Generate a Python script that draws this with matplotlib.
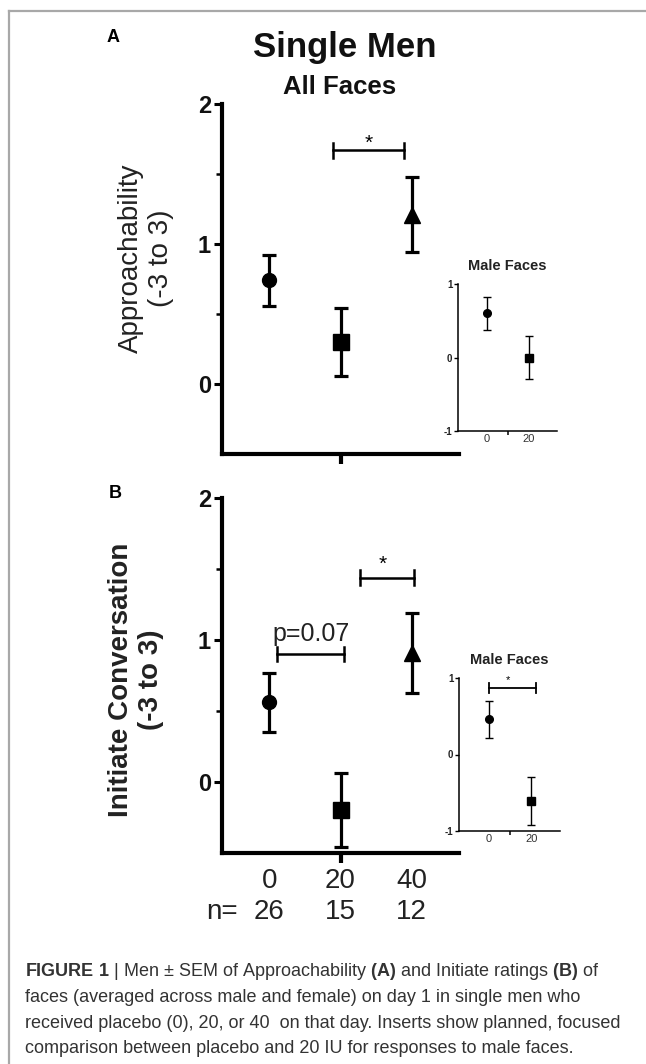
import matplotlib
matplotlib.use("Agg")
import matplotlib.pyplot as plt
from matplotlib.lines import Line2D

plt.rcParams['font.family'] = ['Liberation Sans', 'DejaVu Sans']
plt.rcParams['mathtext.fontset'] = 'custom'
plt.rcParams['mathtext.rm'] = 'Liberation Sans'
plt.rcParams['mathtext.bf'] = 'Liberation Sans:bold'

# data
doses = ['0', '20', '40']
n_counts = ['26', '15', '12']
markers = ['o', 's', '^']
marker_sizes = [10, 11, 11.5]

approach_mean = [0.74, 0.30, 1.21]
approach_sem = [0.18, 0.24, 0.27]
initiate_mean = [0.56, -0.20, 0.91]
initiate_sem = [0.205, 0.26, 0.28]

male_doses = ['0', '20']
male_approach_mean = [0.60, 0.0]
male_approach_sem = [0.22, 0.29]
male_initiate_mean = [0.46, -0.61]
male_initiate_sem = [0.24, 0.31]

caption = [
    r"$\mathbf{FIGURE\ 1}$ | Men ± SEM of Approachability $\mathbf{(A)}$ and Initiate ratings $\mathbf{(B)}$ of",
    "faces (averaged across male and female) on day 1 in single men who",
    "received placebo (0), 20, or 40  on that day. Inserts show planned, focused",
    "comparison between placebo and 20 IU for responses to male faces.",
]

W, H = 646, 1064
fig = plt.figure(figsize=(W / 100, H / 100), dpi=100)


def box(x0, y0, x1, y1):
    # pixel box (top-left origin) -> figure fraction rect
    return [x0 / W, 1 - y1 / H, (x1 - x0) / W, (y1 - y0) / H]


def main_axes(rect):
    ax = fig.add_axes(rect)
    for s in ['top', 'right']:
        ax.spines[s].set_visible(False)
    for s in ['left', 'bottom']:
        ax.spines[s].set_linewidth(3)
        ax.spines[s].set_capstyle('projecting')
    ax.set_xlim(1 / 3, 11 / 3)
    ax.set_ylim(-0.5, 2)
    ax.set_yticks([0, 1, 2])
    ax.set_yticklabels(['0', '1', '2'], fontsize=17, fontweight='bold', color='#111')
    ax.set_yticks([0.5, 1.5], minor=True)
    ax.tick_params(axis='y', which='major', length=6, width=2.2, pad=2)
    ax.tick_params(axis='y', which='minor', length=4, width=1.8)
    ax.xaxis.remove_overlapping_locs = False
    ax.set_xticks([2], minor=True)
    ax.tick_params(axis='x', which='minor', length=7, width=3)
    ax.patch.set_alpha(0)
    return ax


def draw_points(ax, means, sems, ms_scale=1.0, lw=2.3, cap=5):
    for i in range(len(means)):
        ax.errorbar(i + 1, means[i], yerr=sems[i], fmt=markers[i], color='black',
                    ms=marker_sizes[i] * ms_scale, elinewidth=lw, capsize=cap,
                    capthick=lw, zorder=3)


def bracket(ax, x0, x1, y, h, lw=1.8):
    ax.plot([x0, x1], [y, y], color='black', lw=lw)
    ax.plot([x0, x0], [y - h, y + h], color='black', lw=lw)
    ax.plot([x1, x1], [y - h, y + h], color='black', lw=lw)


def inset_axes(rect):
    ax = fig.add_axes(rect)
    for s in ['top', 'right']:
        ax.spines[s].set_visible(False)
    for s in ['left', 'bottom']:
        ax.spines[s].set_linewidth(1.1)
    ax.set_xlim(0.31, 2.67)
    ax.set_ylim(-1, 1)
    ax.set_yticks([-1, 0, 1])
    ax.set_yticklabels(['-1', '0', '1'], fontsize=7, fontweight='bold', color='#222')
    ax.tick_params(axis='y', length=3, width=1, pad=1)
    ax.xaxis.remove_overlapping_locs = False
    ax.set_xticks([1, 2])
    ax.set_xticklabels(male_doses, fontsize=8, color='#333')
    ax.tick_params(axis='x', which='major', length=0, pad=2)
    ax.set_xticks([1.5], minor=True)
    ax.tick_params(axis='x', which='minor', length=3, width=1.1)
    ax.patch.set_alpha(0)
    return ax


# ---- panel A ----
axA = main_axes(box(222, 104, 459, 454))
axA.set_xticks([])
draw_points(axA, approach_mean, approach_sem)
bracket(axA, 1.9, 2.9, 1.67, 0.055)
axA.text(2.4, 1.72, '*', ha='center', va='center', fontsize=15)
axA.text(-0.32, 0.56, 'Approachability\n(-3 to 3)', transform=axA.transAxes,
         rotation=90, ha='center', va='center', fontsize=20, color='#222',
         linespacing=1.2)

insA = inset_axes(box(458, 284, 557, 431))
draw_points(insA, male_approach_mean, male_approach_sem, ms_scale=0.55, lw=1.0, cap=3)
insA.set_title('Male Faces', fontsize=10.5, fontweight='bold', pad=10, color='#222')

# ---- panel B ----
axB = main_axes(box(222, 498, 459, 853))
axB.set_xticks([1, 2, 3])
axB.set_xticklabels(doses, fontsize=20, color='#222')
axB.tick_params(axis='x', which='major', length=0, pad=11)
draw_points(axB, initiate_mean, initiate_sem)
bracket(axB, 1.1, 2.05, 0.9, 0.05)
axB.text(1.59, 0.96, 'p=0.07', ha='center', va='bottom', fontsize=18, color='#222')
bracket(axB, 2.27, 3.03, 1.44, 0.05)
axB.text(2.6, 1.53, '*', ha='center', va='center', fontsize=15)
axB.text(-0.363, 0.487, 'Initiate Conversation\n(-3 to 3)', transform=axB.transAxes,
         rotation=90, ha='center', va='center', fontsize=20, fontweight='bold',
         color='#222', linespacing=1.2)
xt = axB.get_xaxis_transform()
axB.text(axB.get_xlim()[0], -0.166, 'n=', transform=xt, ha='center', va='center',
         fontsize=20, color='#222')
for i, n in enumerate(n_counts):
    axB.text(i + 1, -0.166, n, transform=xt, ha='center', va='center',
             fontsize=20, color='#222')

insB = inset_axes(box(459, 678, 560, 831))
draw_points(insB, male_initiate_mean, male_initiate_sem, ms_scale=0.55, lw=1.0, cap=3)
bracket(insB, 1.0, 2.1, 0.87, 0.07, lw=1.3)
insB.text(1.45, 0.97, '*', ha='center', va='center', fontsize=8)
insB.set_title('Male Faces', fontsize=10.5, fontweight='bold', pad=10, color='#222')

# ---- titles, panel letters ----
fig.text(345 / W, 1 - 47 / H, 'Single Men', ha='center', va='center',
         fontsize=25, fontweight='bold', color='#111')
fig.text(340 / W, 1 - 87 / H, 'All Faces', ha='center', va='center',
         fontsize=18.5, fontweight='bold', color='#111')
fig.text(113 / W, 1 - 38 / H, 'A', ha='center', va='center', fontsize=13,
         fontweight='bold')
fig.text(115 / W, 1 - 493 / H, 'B', ha='center', va='center', fontsize=13,
         fontweight='bold')

# ---- frame lines ----
fig.add_artist(Line2D([9 / W, 1], [1 - 11 / H, 1 - 11 / H], color='#a8a8a8', lw=1.6))
fig.add_artist(Line2D([9 / W, 9 / W], [0, 1 - 11 / H], color='#a8a8a8', lw=1.6))

# ---- caption ----
for i, line in enumerate(caption):
    fig.text(25 / W, 1 - (972 + 25.5 * i) / H, line, ha='left', va='center',
             fontsize=13, color='#333')

fig.savefig('out.png', dpi=100)
